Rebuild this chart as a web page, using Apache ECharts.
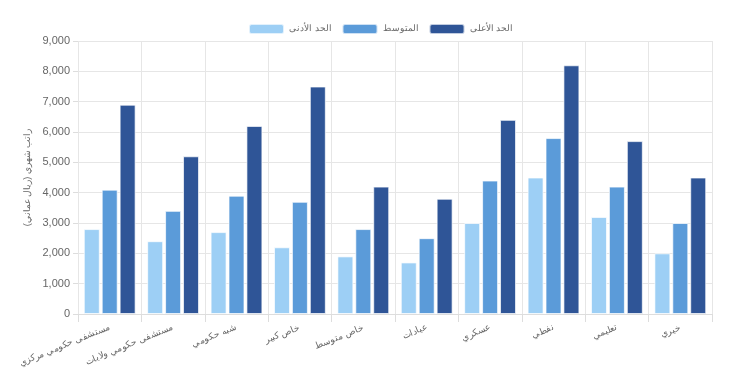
<!DOCTYPE html>
<html><head><meta charset="utf-8">
<script src="https://cdn.jsdelivr.net/npm/echarts@6/dist/echarts.min.js"></script>
<style>html,body{margin:0;padding:0;background:#fff}#c{width:750px;height:375px}</style>
</head><body><div id="c"></div>
<script>
const categories = ['مستشفى حكومي مركزي','مستشفى حكومي ولايات','شبه حكومي','خاص كبير','خاص متوسط','عيادات','عسكري','نفطي','تعليمي','خيري'];
const seriesNames = ['الحد الأدنى','المتوسط','الحد الأعلى'];
const minValues = [2800,2400,2700,2200,1900,1700,3000,4500,3200,2000];
const avgValues = [4100,3400,3900,3700,2800,2500,4400,5800,4200,3000];
const maxValues = [6900,5200,6200,7500,4200,3800,6400,8200,5700,4500];
const yTicks = {min:0, max:9000, interval:1000};
const yName = 'راتب شهري (ريال عماني)';
const colors = ['#9dcff5','#5b9bd9','#2f5597'];
const dataSets = [minValues, avgValues, maxValues];
const chart = echarts.init(document.getElementById('c'));
chart.setOption({
  animation:false,
  color: colors,
  textStyle:{fontFamily:'"Liberation Sans", Arial, sans-serif'},
  legend:{top:18, left:243, itemWidth:35, itemHeight:10, itemGap:10,
    textStyle:{color:'#666', fontSize:9}, data: seriesNames},
  grid:{left:78, right:38, top:41, bottom:61, outerBoundsMode:'none', containLabel:false},
  xAxis:{type:'category', data:categories,
    axisLine:{lineStyle:{color:'#ddd'}},
    axisTick:{show:true, length:8, lineStyle:{color:'#ddd'}},
    splitLine:{show:true, lineStyle:{color:'#e6e6e6'}},
    axisLabel:{rotate:22, color:'#666', fontSize:9, interval:0, margin:13}},
  yAxis:{type:'value', min:yTicks.min, max:yTicks.max, interval:yTicks.interval,
    name:yName, nameLocation:'middle', nameGap:40, nameTextStyle:{color:'#666', fontSize:9},
    axisLine:{show:false},
    axisTick:{show:true, length:5, lineStyle:{color:'#ddd'}},
    splitLine:{lineStyle:{color:'#e6e6e6'}},
    axisLabel:{color:'#666', fontSize:11, formatter:v=>v.toLocaleString('en-US')}},
  series: seriesNames.map((n,i)=>({name:n, type:'bar', data:dataSets[i], barWidth:16, barGap:'12%',
    itemStyle:{borderColor:'rgba(255,255,255,0.7)', borderWidth:1}}))
});
</script></body></html>
